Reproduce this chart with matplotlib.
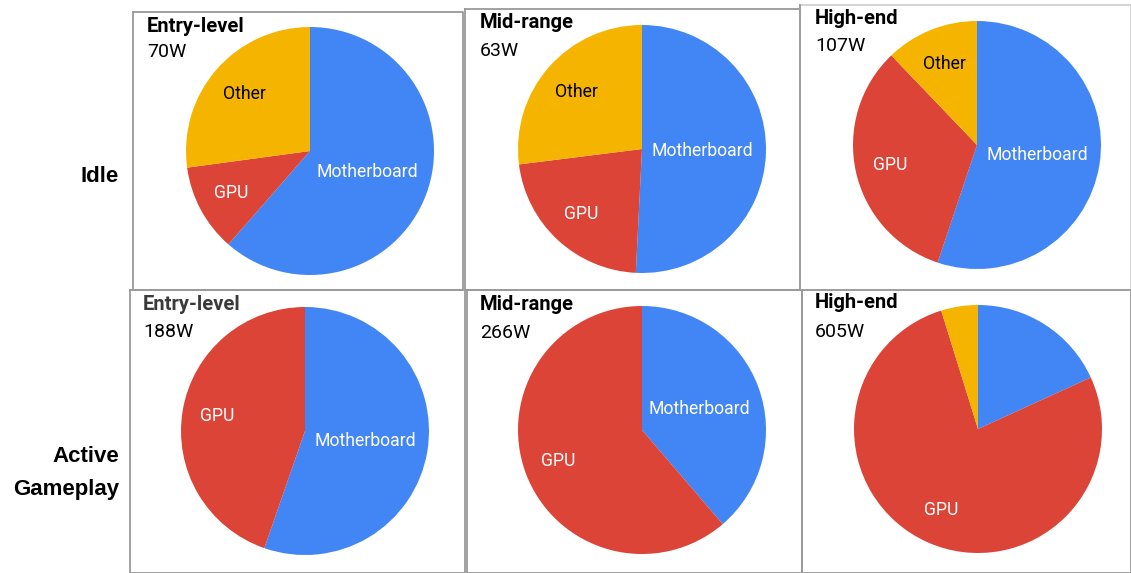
import numpy as np
import matplotlib
matplotlib.use("Agg")
import matplotlib.pyplot as plt
from matplotlib.lines import Line2D

# ---- data ----
categories = ["Motherboard", "GPU", "Other"]
tiers = ["Entry-level", "Mid-range", "High-end"]
rows = ["Idle", "Active\nGameplay"]
idle_watts = [[43, 8, 19], [32, 14, 17], [59, 35, 13]]
active_watts = [[104, 84, 0], [103, 163, 0], [110, 466, 29]]
idle_totals = ["70W", "63W", "107W"]
active_totals = ["188W", "266W", "605W"]
# which slice labels are shown (per chart)
idle_show = [[True, True, True], [True, True, True], [True, True, True]]
active_show = [[True, True, False], [True, True, False], [False, True, False]]

colors = ["#4285F4", "#DB4437", "#F4B400"]
label_colors = ["white", "white", "black"]
label_radius = [0.49, 0.72, 0.70]

W, H = 1131, 573
fig = plt.figure(figsize=(W / 100, H / 100), dpi=100)
fig.patch.set_facecolor("white")


def fx(x):
    return x / W


def fy(y):
    return 1 - y / H


# ---- boxes ----
boxes = [
    (133, 463, 12, 290, "#9a9a9a"),
    (465, 800, 9, 290, "#9a9a9a"),
    (800, 1131, 5, 290, "#d0d0d0"),
    (130, 465, 290, 573, "#9a9a9a"),
    (467, 802, 290, 573, "#9a9a9a"),
    (802, 1131, 290, 573, "#9a9a9a"),
]
for x0, x1, y0, y1, c in boxes:
    xs = [fx(x0), fx(x1), fx(x1), fx(x0), fx(x0)]
    ys = [fy(y0), fy(y0), fy(y1), fy(y1), fy(y0)]
    fig.add_artist(Line2D(xs, ys, color=c, lw=1.3, transform=fig.transFigure))
fig.add_artist(Line2D([fx(800), fx(800)], [fy(5), fy(290)], color="#9a9a9a", lw=1.3,
                      transform=fig.transFigure))

# ---- pies ----
centers = [[(310, 151), (642, 149), (977, 145)],
           [(305, 431), (642, 430), (978, 429)]]
R = 124
data = [idle_watts, active_watts]
shows = [idle_show, active_show]
totals = [idle_totals, active_totals]
title_pos = [[(147, 26, 52), (480, 23, 51), (815, 18, 46)],
             [(143, 305, 332), (480, 305, 333), (815, 303, 332)]]

for r in range(2):
    for c in range(3):
        cx, cy = centers[r][c]
        ax = fig.add_axes([fx(cx - R), fy(cy + R), 2 * R / W, 2 * R / H])
        vals = data[r][c]
        wedges, _ = ax.pie(vals, colors=colors, startangle=90, counterclock=False,
                           radius=1.0, wedgeprops=dict(linewidth=0))
        ax.set_xlim(-1, 1)
        ax.set_ylim(-1, 1)
        ax.set_aspect("equal")
        ax.axis("off")
        for i, w in enumerate(wedges):
            if vals[i] <= 0 or not shows[r][c][i]:
                continue
            mid = np.deg2rad((w.theta1 + w.theta2) / 2)
            rr = label_radius[i]
            ax.text(rr * np.cos(mid), rr * np.sin(mid), categories[i],
                    ha="center", va="center", color=label_colors[i],
                    fontsize=12.7, family="Roboto")
        tx, ty1, ty2 = title_pos[r][c]
        tcol = "#3a3a3a" if (r == 1 and c == 0) else "black"
        fig.text(fx(tx), fy(ty1), tiers[c], ha="left", va="center",
                 fontsize=14.5, fontweight="bold", family="Roboto", color=tcol)
        fig.text(fx(tx), fy(ty2), totals[r][c], ha="left", va="center",
                 fontsize=14, family="Roboto", color="black")

# ---- row labels ----
fig.text(fx(119), fy(176), rows[0], ha="right", va="center", fontsize=16,
         fontweight="bold", family="Liberation Sans")
fig.text(fx(119), fy(473), rows[1], ha="right", va="center", fontsize=16,
         fontweight="bold", family="Liberation Sans", linespacing=1.75,
         multialignment="right")

fig.savefig("out.png", dpi=100, facecolor="white")
